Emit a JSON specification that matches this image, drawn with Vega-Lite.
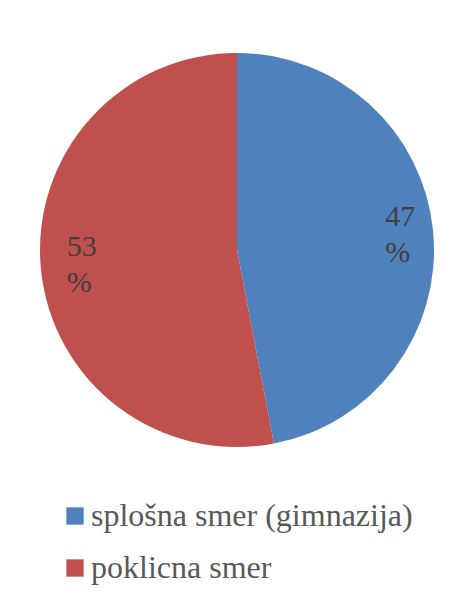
{
  "$schema": "https://vega.github.io/schema/vega-lite/v6.json",
  "autosize": "none",
  "width": 400,
  "height": 400,
  "padding": {"left": 37, "top": 50, "right": 24, "bottom": 153},
  "background": "white",
  "config": {"view": {"stroke": null}, "font": "Liberation Serif"},
  "data": {
    "values": [
      {"category": "splošna smer (gimnazija)", "value": 47, "label": "47 %", "idx": 1},
      {"category": "poklicna smer", "value": 53, "label": "53 %", "idx": 2}
    ]
  },
  "encoding": {
    "theta": {"field": "value", "type": "quantitative", "stack": true},
    "order": {"field": "idx", "type": "ordinal"},
    "color": {
      "field": "category",
      "type": "nominal",
      "scale": {"domain": ["splošna smer (gimnazija)", "poklicna smer"], "range": ["#4F81BD", "#C0504D"]},
      "legend": {
        "title": null,
        "orient": "none",
        "legendX": 22,
        "legendY": 450,
        "padding": 0,
        "symbolType": "square",
        "symbolSize": 300,
        "symbolStrokeWidth": 0,
        "labelFont": "Liberation Serif",
        "labelFontSize": 32,
        "labelColor": "#595959",
        "labelOffset": 0,
        "rowPadding": 20,
        "labelLimit": 400
      }
    }
  },
  "layer": [
    {"mark": {"type": "arc", "outerRadius": 197}},
    {
      "mark": {"type": "text", "radius": 160, "align": "left", "baseline": "middle", "dx": -11, "dy": -18, "font": "Liberation Serif", "fontSize": 30, "lineBreak": " ", "lineHeight": 36},
      "encoding": {"text": {"field": "label"}, "color": {"value": "#404040"}}
    }
  ]
}
